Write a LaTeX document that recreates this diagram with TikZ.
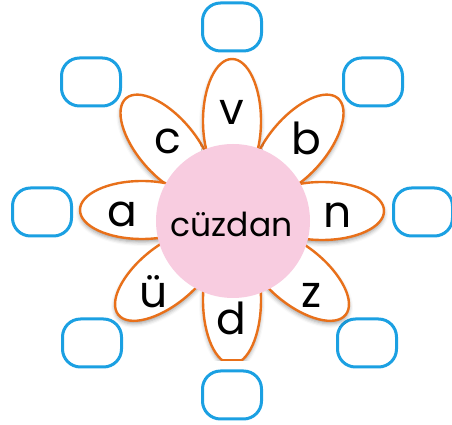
\documentclass[tikz,border=0pt]{standalone}
\usepackage{fontspec}
\setmainfont{Poppins}
\usetikzlibrary{shapes.geometric,shadows.blur}
\definecolor{boxblue}{HTML}{1BA0E2}
\definecolor{petalorange}{HTML}{E8701A}
\definecolor{centerpink}{HTML}{F8CCE0}
\tikzset{
  answerbox/.style={draw=boxblue, line width=3pt, rounded corners=18pt,
    minimum width=59pt, minimum height=48pt, inner sep=0pt},
  petal/.style={draw=petalorange, fill=white, line width=2.4pt,
    blur shadow={shadow xshift=0pt, shadow yshift=-3pt, shadow blur radius=4pt, shadow opacity=38}},
  petalletter/.style={anchor=base, inner sep=0pt, font=\fontsize{44}{44}\selectfont},
  centerword/.style={anchor=base, inner sep=0pt, font=\fontsize{33}{33}\selectfont}
}
\begin{document}
\begin{tikzpicture}[x=1pt,y=1pt]
\useasboundingbox (0,0) rectangle (452,425);
% answer boxes
\node[answerbox] (boxT)  at (232,398) {};
\node[answerbox] (boxTL) at (91,343) {};
\node[answerbox] (boxTR) at (373,343) {};
\node[answerbox] (boxL)  at (42,213) {};
\node[answerbox] (boxR)  at (423,213) {};
\node[answerbox] (boxBL) at (92,82) {};
\node[answerbox] (boxBR) at (367,82) {};
\node[answerbox] (boxB)  at (232,30) {};
% petals
\draw[petal, rotate around={130.5:(166.4,279.6)}] (166.4,279.6) ellipse [x radius=62, y radius=29];
\draw[petal, rotate around={49.5:(297.6,279.6)}] (297.6,279.6) ellipse [x radius=62, y radius=29];
\draw[petal, rotate around={90:(232,304)}] (232,304) ellipse [x radius=62, y radius=29];
\draw[petal] (142,215) ellipse [x radius=62, y radius=29];
\draw[petal] (322,214) ellipse [x radius=62, y radius=29];
\draw[petal, rotate around={219.3:(166.4,149.4)}] (166.4,149.4) ellipse [x radius=62, y radius=29];
\draw[petal, rotate around={-39.3:(297.6,149.4)}] (297.6,149.4) ellipse [x radius=62, y radius=29];
\begin{scope}
  \clip (150,64) rectangle (320,300);
  \draw[petal] (232,125) ellipse [x radius=29, y radius=64];
\end{scope}
\draw[draw=petalorange, line width=2.4pt, line cap=round] (223.2,65) -- (240.8,65);
% centre
\node[circle, fill=centerpink, minimum size=154pt, inner sep=0pt] (centre) at (233,204) {};
\node[centerword] (word) at (231.5,188) {cüzdan};
% letters
\node[petalletter] (lv) at (232,300) {v};
\node[petalletter] (lb) at (306,270) {b};
\node[petalletter] (lc) at (168,271) {c};
\node[petalletter] (la) at (122,198) {a};
\node[petalletter] (ln) at (338,197) {n};
\node[petalletter] (lu) at (154,117) {ü};
\node[petalletter] (lz) at (312,117) {z};
\node[petalletter] (ld) at (231,90) {d};
\end{tikzpicture}
\end{document}
